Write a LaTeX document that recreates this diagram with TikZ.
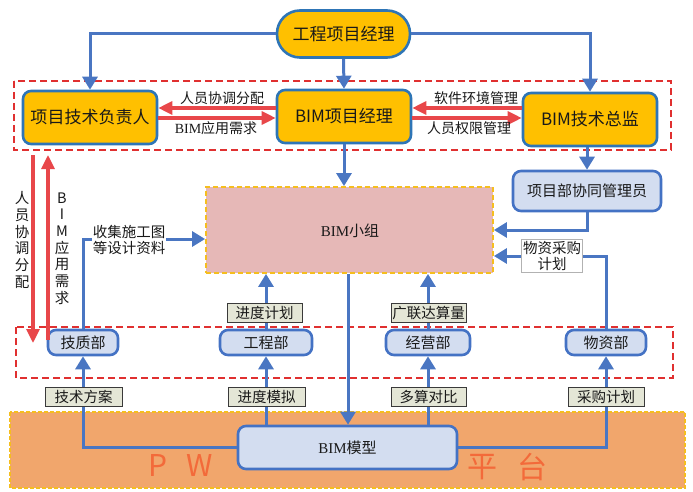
\documentclass[tikz,border=0pt]{standalone}
\usepackage{fontspec}
\setmainfont{Noto Sans CJK SC}
\newfontfamily\lserif{Liberation Serif}
\usetikzlibrary{arrows.meta}
\definecolor{ornode}{HTML}{FFC000}
\definecolor{orborder}{HTML}{2E75B6}
\definecolor{lbfill}{HTML}{D3DDF0}
\definecolor{lbborder}{HTML}{4472C4}
\definecolor{lineblue}{HTML}{4A76C2}
\definecolor{redline}{HTML}{E8474A}
\definecolor{reddash}{HTML}{E03030}
\definecolor{tagfill}{HTML}{E4E6D6}
\definecolor{tagborder}{HTML}{3A3A3A}
\definecolor{groupfill}{HTML}{E6B8B7}
\definecolor{gold}{HTML}{F5BE1E}
\definecolor{platfill}{HTML}{F1A66C}
\definecolor{pwtext}{HTML}{F36A3A}
\tikzset{
  orangebox/.style={draw=orborder, line width=2.6pt, fill=ornode, rounded corners=8pt,
    inner sep=0pt, font=\fontsize{17}{20}\selectfont, text=black!90},
  bluebox/.style={draw=lbborder, line width=2.6pt, fill=lbfill, rounded corners=8pt,
    inner sep=0pt, font=\fontsize{15}{17}\selectfont, text=black!90},
  tagbox/.style={draw=tagborder, line width=1pt, fill=tagfill, inner sep=0pt,
    minimum height=19pt, font=\fontsize{14.5}{16}\selectfont, text=black!90},
  lbl/.style={inner sep=0pt, font=\fontsize{14}{16}\selectfont, text=black!90},
  bluearrow/.style={draw=lineblue, line width=3pt, -{Triangle[length=13pt,width=15pt]}},
  redarrow/.style={draw=redline, line width=3.2pt, -{Triangle[length=14pt,width=13pt]}},
  reddashbox/.style={draw=reddash, line width=1.6pt, dash pattern=on 7pt off 4pt},
  bigtxt/.style={inner sep=0pt, font=\fontsize{30}{32}\selectfont, text=pwtext},
}
\begin{document}
\begin{tikzpicture}[x=1pt,y=-1pt]
\useasboundingbox (0,0) rectangle (693,492);
% platform
\draw[fill=platfill, draw=gold, line width=1.5pt, dash pattern=on 4pt off 2pt] (10,412) rectangle (685,488);
\node[bigtxt] (pP) at (157.5,466) {P};
\node[bigtxt] (pW) at (200,466) {W};
\node[bigtxt] (pPing) at (482.5,467) {平};
\node[bigtxt] (pTai) at (532.5,467) {台};
% dashed red boxes
\draw[reddashbox] (14,81) rectangle (671,150);
\draw[reddashbox] (16,327) rectangle (673,378);
% top nodes
\node[orangebox, minimum width=133pt, minimum height=47pt, rounded corners=23pt] (pm) at (343.5,34) {工程项目经理};
\node[orangebox, minimum width=134pt, minimum height=53pt] (tech) at (90,117.5) {项目技术负责人};
\node[orangebox, minimum width=134pt, minimum height=53pt] (bimpm) at (344,116.5) {BIM项目经理};
\node[orangebox, minimum width=134pt, minimum height=53pt] (bimtd) at (590,119.5) {BIM技术总监};
% group and coordinator
\node[draw=gold, fill=groupfill, line width=1.8pt, dash pattern=on 5pt off 3pt,
  minimum width=287pt, minimum height=86pt, inner sep=0pt] (group) at (349.5,230) {};
\node[lbl, font=\fontsize{15}{17}\selectfont] (grouptxt) at (350,231) {{\lserif BIM}小组};
\node[bluebox, minimum width=148pt, minimum height=40pt] (coord) at (587,191) {项目部协同管理员};
% departments
\node[bluebox, minimum width=70pt, minimum height=25pt] (jz) at (83,342.5) {技质部};
\node[bluebox, minimum width=92pt, minimum height=25pt] (gc) at (266,342.5) {工程部};
\node[bluebox, minimum width=84pt, minimum height=25pt] (jy) at (428,342.5) {经营部};
\node[bluebox, minimum width=80pt, minimum height=25pt] (wz) at (606,342.5) {物资部};
% model
\node[bluebox, minimum width=219pt, minimum height=43pt] (model) at (347.5,447.5) {{\lserif BIM}模型};
% helper coordinates
\coordinate (yA) at (0,108);
\coordinate (yB) at (0,118);
\coordinate (yW) at (0,256);
\coordinate (yJ) at (0,239);
\coordinate (dTop) at (33,155);
\coordinate (dBot) at (33,343);
\coordinate (uBot) at (48,340);
\coordinate (uTop) at (48,155);
\coordinate (bx) at (348,0);
\coordinate (cx) at (587,0);
% top connectors
\draw[bluearrow] (pm.west) -| (tech.north);
\draw[bluearrow] (pm.east) -| (bimtd.north);
\draw[bluearrow] (pm.south) -- (bimpm.north);
\draw[bluearrow] (bimpm.south) -- (bimpm.south |- group.north);
\draw[bluearrow] (bimtd.south -| cx) -- (coord.north -| cx);
\draw[bluearrow] (coord.south -| cx) |- (group.east);
% red arrows horizontal
\draw[redarrow] (bimpm.west |- yA) -- (tech.east |- yA);
\draw[redarrow] (tech.east |- yB) -- (bimpm.west |- yB);
\draw[redarrow] (bimtd.west |- yA) -- (bimpm.east |- yA);
\draw[redarrow] (bimpm.east |- yB) -- (bimtd.west |- yB);
\node[lbl] (l1) at (222,98) {人员协调分配};
\node[lbl] (l2) at (216,128) {{\lserif BIM}应用需求};
\node[lbl] (l3) at (476,98) {软件环境管理};
\node[lbl] (l4) at (469,128) {人员权限管理};
% red arrows vertical
\draw[redarrow] (dTop) -- (dBot);
\draw[redarrow] (uBot) -- (uTop);
\node[lbl, align=center, font=\fontsize{14.5}{16.7}\selectfont] (v1) at (22,240) {人\\员\\协\\调\\分\\配};
\node[lbl, align=center, font=\fontsize{14.5}{16.7}\selectfont] (v2) at (62,248.5) {B\\I\\M\\应\\用\\需\\求};
% department to group
\draw[bluearrow] (jz.north) |- (group.west |- yJ);
\node[lbl, fill=white, align=center, inner sep=1pt, font=\fontsize{14.5}{16.5}\selectfont] (t1) at (129,240) {收集施工图\\等设计资料};
\draw[bluearrow] (gc.north) -- (gc.north |- group.south);
\node[tagbox, minimum width=75pt] (t2) at (264.5,313) {进度计划};
\draw[bluearrow] (jy.north) -- (jy.north |- group.south);
\node[tagbox, minimum width=75pt] (t3) at (428.5,313) {广联达算量};
\draw[bluearrow] (wz.north) |- (group.east |- yW);
\node[lbl, draw=black!30, line width=0.6pt, fill=white, align=center, inner sep=1.5pt,
  minimum width=58pt, font=\fontsize{14.5}{16.5}\selectfont] (t4) at (552,256) {物资采购\\计划};
% model connectors
\draw[bluearrow] (bx |- group.south) -- (bx |- model.north);
\draw[bluearrow] (model.west) -| (jz.south);
\draw[bluearrow] (gc.south |- model.north) -- (gc.south);
\draw[bluearrow] (jy.south |- model.north) -- (jy.south);
\draw[bluearrow] (model.east) -| (wz.south);
\node[tagbox, minimum width=77pt] (b1) at (83.5,396.5) {技术方案};
\node[tagbox, minimum width=77pt] (b2) at (266.5,396.5) {进度模拟};
\node[tagbox, minimum width=75pt] (b3) at (428.5,396.5) {多算对比};
\node[tagbox, minimum width=76pt] (b4) at (606,396.5) {采购计划};
\end{tikzpicture}
\end{document}
